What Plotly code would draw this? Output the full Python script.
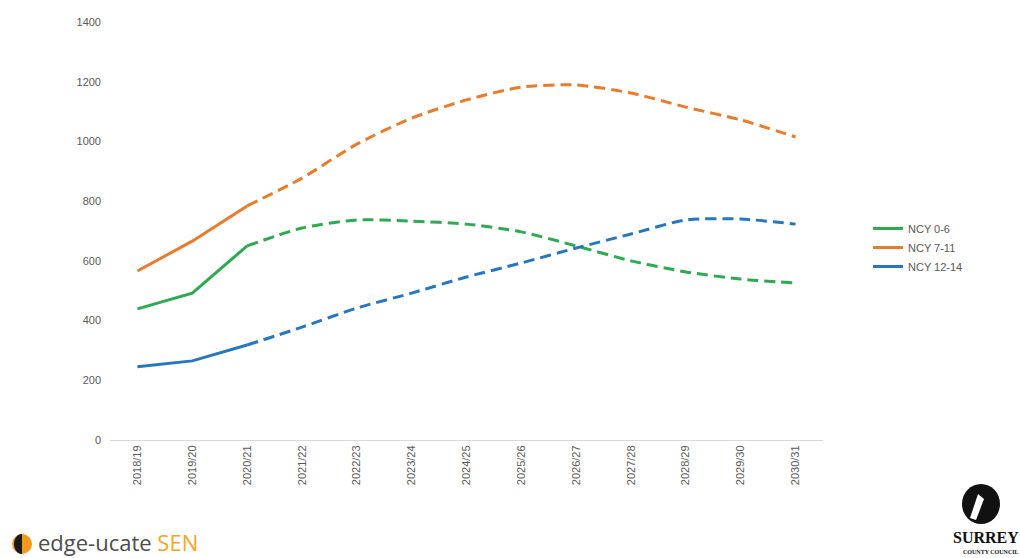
import math
import plotly.graph_objects as go

years = ["2018/19", "2019/20", "2020/21", "2021/22", "2022/23", "2023/24", "2024/25",
         "2025/26", "2026/27", "2027/28", "2028/29", "2029/30", "2030/31"]
ncy_0_6 = [439, 492, 650, 710, 737, 733, 723, 697, 650, 600, 563, 539, 526]
ncy_7_11 = [566, 666, 784, 877, 991, 1078, 1139, 1182, 1189, 1162, 1115, 1072, 1015]
ncy_12_14 = [245, 265, 318, 378, 442, 492, 546, 593, 643, 690, 737, 740, 723]
actual_end = 3  # first three years are actual (solid), rest projected (dashed)

series = [("NCY 0-6", ncy_0_6, "#2EAA50"),
          ("NCY 7-11", ncy_7_11, "#E97B2C"),
          ("NCY 12-14", ncy_12_14, "#2677C0")]

fig = go.Figure()
for name, vals, col in series:
    fig.add_trace(go.Scatter(x=years[:actual_end], y=vals[:actual_end], mode="lines",
                             name=name, line=dict(color=col, width=3), legendgroup=name))
for name, vals, col in series:
    fig.add_trace(go.Scatter(x=years[actual_end - 1:], y=vals[actual_end - 1:], mode="lines",
                             name=name, showlegend=False, legendgroup=name,
                             line=dict(color=col, width=3, dash="11px,6px", shape="spline", smoothing=0.7)))

L, R, T, B = 110, 197, 22, 118
W, H = 1020, 558
pw, ph = W - L - R, H - T - B

def px(x):
    return (x - L) / pw

def py(y):
    return (H - B - y) / ph

fig.update_layout(
    width=W, height=H,
    margin=dict(l=L, r=R, t=T, b=B),
    paper_bgcolor="white", plot_bgcolor="white",
    font=dict(family="Liberation Sans, Arial, sans-serif", color="#595959", size=11),
    showlegend=True,
    legend=dict(x=px(868), y=py(214), xanchor="left", yanchor="top",
                font=dict(size=11, color="#595959"), itemwidth=30,
                tracegroupgap=0, bgcolor="rgba(0,0,0,0)"),
    xaxis=dict(type="category", tickangle=-90, showgrid=False, showline=True,
               range=[-0.5, len(years) - 0.5],
               linecolor="#D9D9D9", linewidth=1, ticks="", tickfont=dict(size=11, color="#595959"),
               zeroline=False),
    yaxis=dict(range=[0, 1400], dtick=200, showgrid=False, showline=False, zeroline=False,
               tickfont=dict(size=11, color="#595959"), ticks="", ticklabelstandoff=8),
)

# edge-ucate logo icon (orange circle with dark left half)
cx, cy, r = 22, 544, 10
fig.add_shape(type="circle", xref="paper", yref="paper",
              x0=px(cx - r), x1=px(cx + r), y0=py(cy + r), y1=py(cy - r),
              fillcolor="#F39A1E", line=dict(width=0))
pts = []
for i in range(25):
    a = math.pi / 2 + math.pi * i / 24
    pts.append((px(cx + 0.8 * r * math.cos(a)), py(cy - r * math.sin(a))))
path = "M " + " L ".join(f"{x},{y}" for x, y in pts) + " Z"
fig.add_shape(type="path", xref="paper", yref="paper", path=path,
              fillcolor="#1A1A1A", line=dict(width=0))

fig.add_annotation(xref="paper", yref="paper", x=px(36), y=py(542), xanchor="left", yanchor="middle",
                   text="<span style='color:#4D4D4D'>edge-ucate</span><span style='color:#F5A623'> SEN</span>",
                   showarrow=False, font=dict(family="Open Sans, sans-serif", size=22))

# Surrey County Council logo
fig.add_shape(type="circle", xref="paper", yref="paper",
              x0=px(962), x1=px(1000), y0=py(524), y1=py(484),
              fillcolor="#111111", line=dict(width=0))
fig.add_shape(type="path", xref="paper", yref="paper",
              path=f"M {px(970)},{py(518)} L {px(978)},{py(494)} L {px(984)},{py(499)} L {px(976)},{py(520)} Z",
              fillcolor="white", line=dict(width=0))
fig.add_annotation(xref="paper", yref="paper", x=px(1021), y=py(537), xanchor="right", yanchor="middle",
                   text="<b>SURREY</b>", showarrow=False,
                   font=dict(family="Liberation Serif, serif", size=16, color="#111111"))
fig.add_annotation(xref="paper", yref="paper", x=px(1021), y=py(552), xanchor="right", yanchor="middle",
                   text="<b>COUNTY COUNCIL</b>", showarrow=False,
                   font=dict(family="Liberation Serif, serif", size=6, color="#111111"))

fig.write_html("out.html")
